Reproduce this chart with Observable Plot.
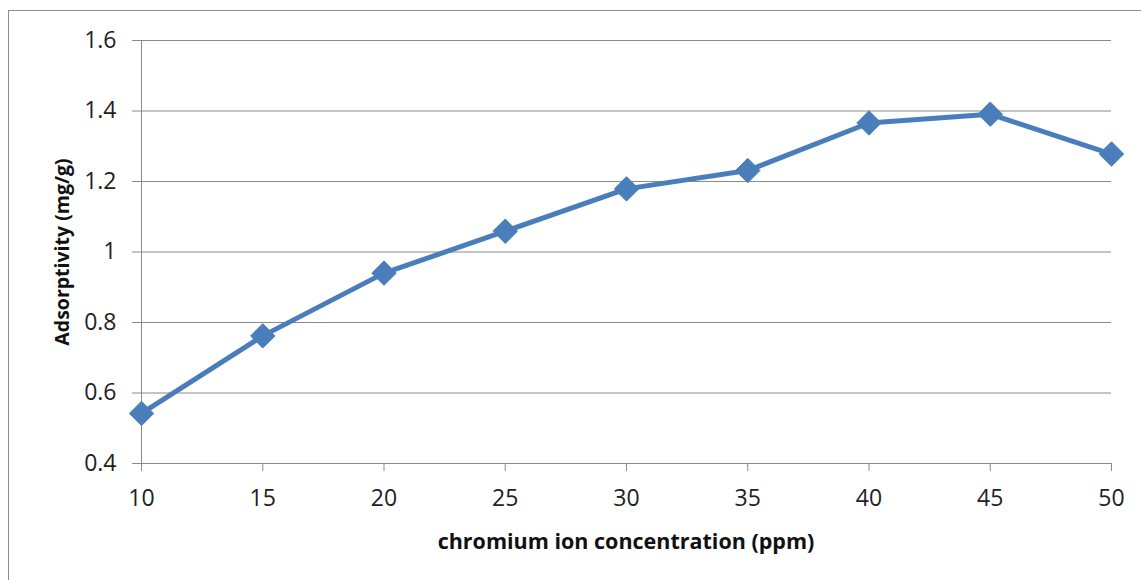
<!DOCTYPE html>
<html><head><meta charset="utf-8">
<script src="https://cdn.jsdelivr.net/npm/d3@7"></script>
<script src="https://cdn.jsdelivr.net/npm/@observablehq/plot@0.6"></script>
<style>
body{margin:0;background:#fff;overflow:hidden;}
#frame{position:absolute;left:8px;top:10px;width:1200px;height:620px;border:1.5px solid #8c8c8c;box-sizing:border-box;}
#chart{position:absolute;left:0;top:0;}
</style></head><body>
<div id="frame"></div>
<div id="chart"></div>
<script>
const concentration = [10, 15, 20, 25, 30, 35, 40, 45, 50];
const adsorptivity = [0.542, 0.762, 0.940, 1.059, 1.179, 1.231, 1.366, 1.391, 1.278];
const xTicks = [10, 15, 20, 25, 30, 35, 40, 45, 50];
const yTicks = [0.4, 0.6, 0.8, 1.0, 1.2, 1.4, 1.6];
const data = concentration.map((c, i) => ({c, a: adsorptivity[i]}));
const col = "#4a7ebb";
const font = "'Open Sans', 'Liberation Sans', sans-serif";
const chart = Plot.plot({
  width: 1141, height: 580,
  marginLeft: 141, marginRight: 30, marginTop: 40, marginBottom: 117,
  style: {fontFamily: font, background: "transparent", overflow: "visible"},
  x: {domain: [10, 50]},
  y: {domain: [0.4, 1.6]},
  marks: [
    Plot.ruleY(yTicks, {stroke: "#8a8a8a", strokeWidth: 1}),
    Plot.ruleX([10], {stroke: "#8a8a8a", strokeWidth: 1}),
    Plot.axisY({ticks: yTicks, tickFormat: d => d3.format("")(+d.toFixed(1)), tickSize: 9, tickPadding: 16, fontSize: 23, stroke: "#8a8a8a", fill: "#222", label: null}),
    Plot.axisX({ticks: xTicks, tickSize: 8, tickPadding: 18, fontSize: 23, stroke: "#8a8a8a", fill: "#222", label: null}),
    Plot.line(data, {x: "c", y: "a", stroke: col, strokeWidth: 5}),
    Plot.dot(data, {x: "c", y: "a", symbol: "diamond2", r: 11, fill: col, stroke: col, strokeWidth: 1})
  ]
});
document.getElementById("chart").appendChild(chart);
const svg = d3.select(chart);
svg.append("text").attr("x", 626).attr("y", 549).attr("text-anchor", "middle")
  .attr("font-family", font).attr("font-size", 21.5).attr("font-weight", "bold").attr("fill", "#111")
  .text("chromium ion concentration (ppm)");
svg.append("text").attr("transform", "translate(69,252) rotate(-90)").attr("text-anchor", "middle")
  .attr("font-family", font).attr("font-size", 19.5).attr("font-weight", "bold").attr("fill", "#111")
  .text("Adsorptivity (mg/g)");
</script>
</body></html>
